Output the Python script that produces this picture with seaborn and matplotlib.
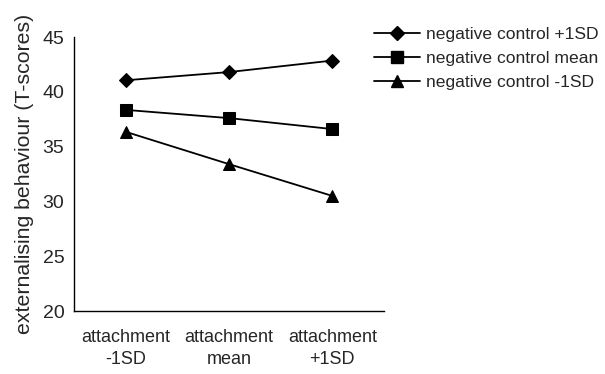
import matplotlib
matplotlib.use("Agg")
import matplotlib.pyplot as plt
import seaborn as sns
import pandas as pd
from matplotlib.lines import Line2D

categories = ["attachment\n-1SD", "attachment\nmean", "attachment\n+1SD"]
series_names = ["negative control +1SD", "negative control mean", "negative control -1SD"]
vals_plus = [41.05, 41.8, 42.85]
vals_mean = [38.35, 37.6, 36.6]
vals_minus = [36.35, 33.4, 30.5]
yticks = [20, 25, 30, 35, 40, 45]

sns.set_theme(style="white")
plt.rcParams['font.family'] = ['Liberation Sans', 'DejaVu Sans']

rows = []
for name, vals in zip(series_names, [vals_plus, vals_mean, vals_minus]):
    for i, v in enumerate(vals):
        rows.append({"x": i, "y": v, "series": name})
df = pd.DataFrame(rows)

fig = plt.figure(figsize=(6.05, 3.74), dpi=100)
ax = fig.add_axes([74/605, 1-311/374, (384-74)/605, (311-37)/374])

markers = {"negative control +1SD": "D", "negative control mean": "s", "negative control -1SD": "^"}
sizes = {"D": 7, "s": 8, "^": 9}
for name in series_names:
    sub = df[df.series == name]
    m = markers[name]
    sns.lineplot(data=sub, x="x", y="y", ax=ax, color="black", lw=1.3,
                 marker=m, markersize=sizes[m], markeredgecolor="black",
                 legend=False)

ax.set_xlim(-0.5, 2.5)
ax.set_ylim(20, 45)
ax.set_yticks(yticks)
ax.set_yticklabels([str(t) for t in yticks], fontsize=14)
ax.set_xticks([-0.5, 0.5, 1.5, 2.5])
ax.set_xticklabels([])
ax.set_xticks([0, 1, 2], minor=True)
ax.set_xticklabels(categories, minor=True, fontsize=13, linespacing=1.35)
ax.tick_params(axis="x", which="minor", length=0, pad=13)
ax.tick_params(axis="x", which="major", length=4, direction="out", width=1, color="black")
ax.tick_params(axis="y", length=4, direction="out", width=1, color="black", pad=3)
ax.set_xlabel("")
ax.set_ylabel("externalising behaviour (T-scores)", fontsize=15.3, labelpad=6)
for s in ["top", "right"]:
    ax.spines[s].set_visible(False)
for s in ["left", "bottom"]:
    ax.spines[s].set_color("black")
    ax.spines[s].set_linewidth(1)

handles = [Line2D([0], [0], color="black", lw=1.3, marker=markers[n],
                  markersize=sizes[markers[n]]) for n in series_names]
fig.legend(handles, series_names, loc="upper left", bbox_to_anchor=(374/605, 1-27/374),
           frameon=False, fontsize=12.6, handlelength=2.6, handletextpad=0.35,
           labelspacing=0.5, borderaxespad=0, borderpad=0)

fig.savefig("out.png", dpi=100)
